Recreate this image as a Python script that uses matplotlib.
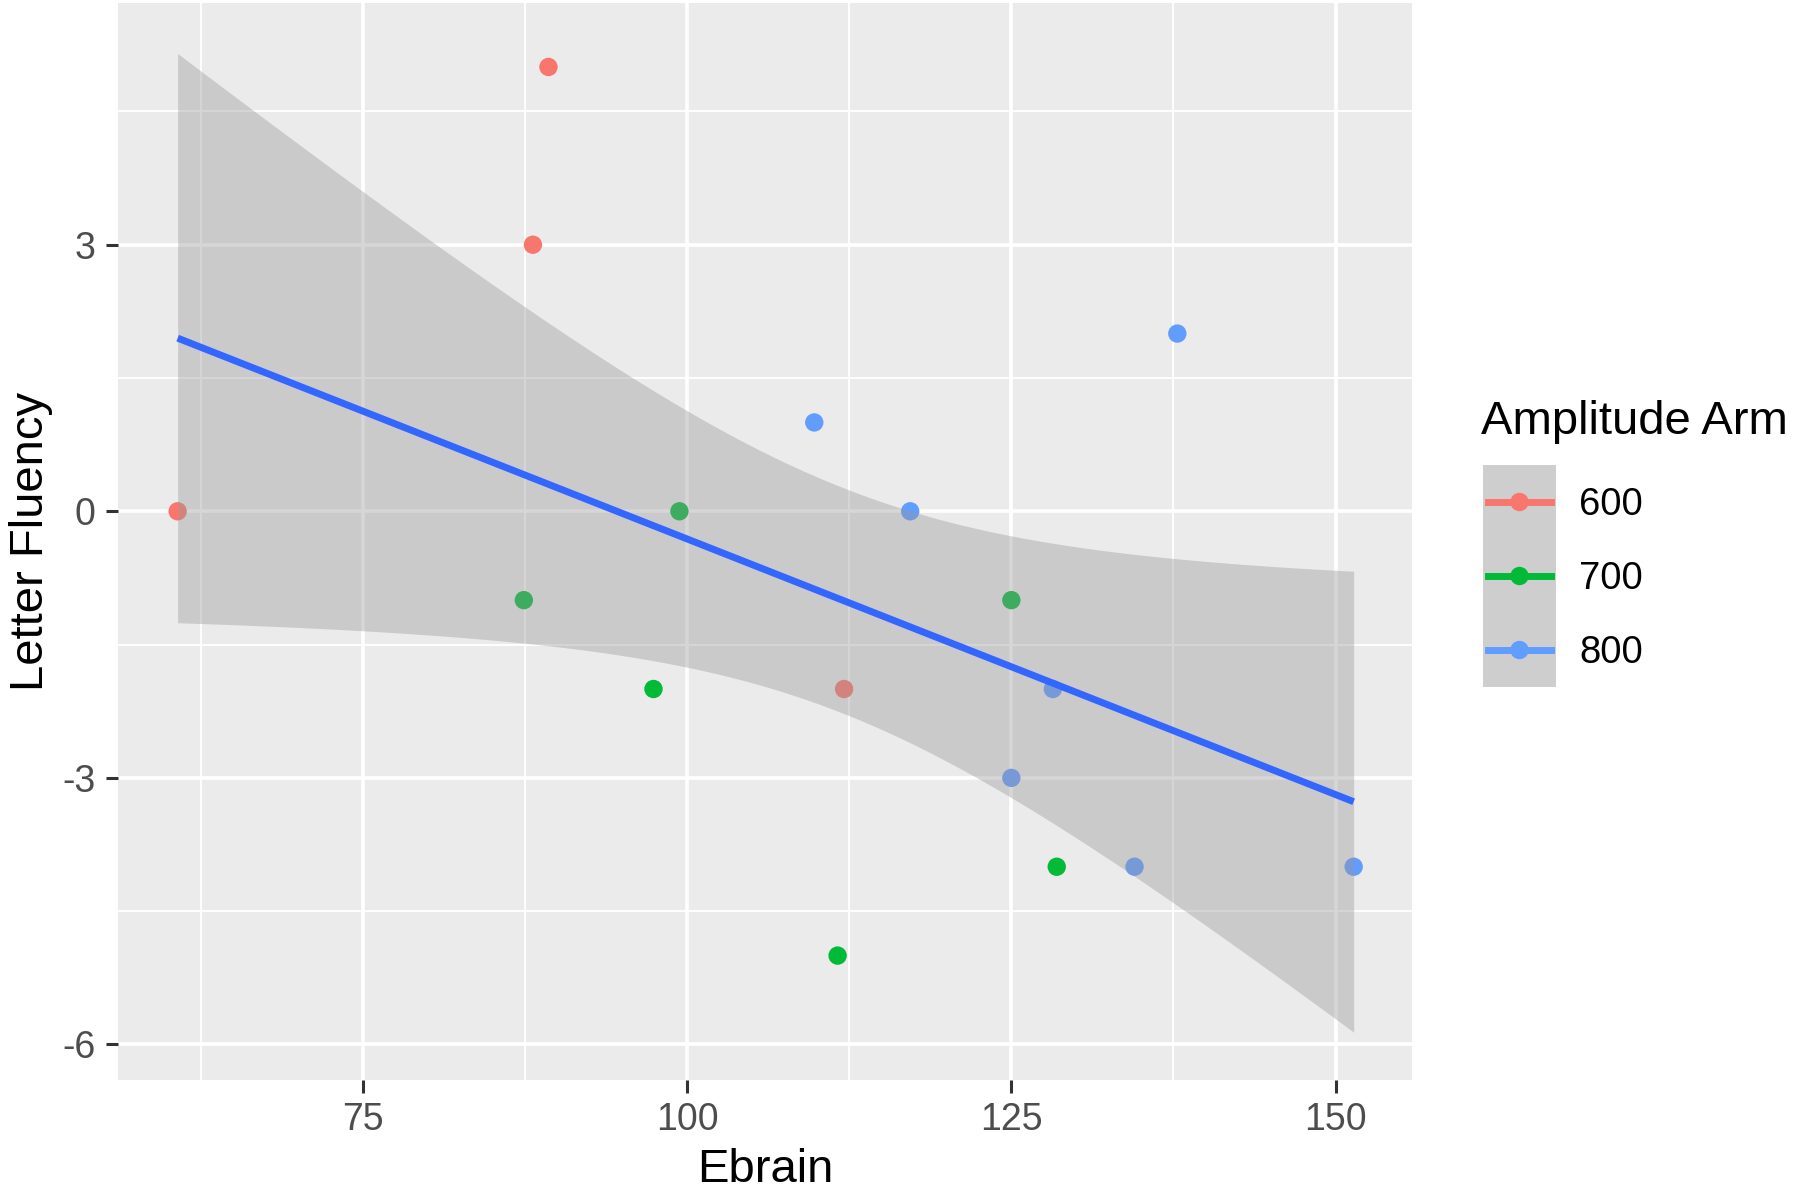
import matplotlib
matplotlib.use("Agg")
import matplotlib.pyplot as plt
from matplotlib.lines import Line2D
from matplotlib.patches import Rectangle
import numpy as np

plt.rcParams['font.family'] = ['Liberation Sans', 'DejaVu Sans']

# data
groups = ['600', '700', '800']
ebrain_600 = [60.7, 89.3, 88.1, 112.1]
fluency_600 = [0, 5, 3, -2]
ebrain_700 = [99.4, 87.4, 97.4, 111.6, 125.0, 128.5]
fluency_700 = [0, -1, -2, -5, -1, -4]
ebrain_800 = [109.8, 117.2, 137.8, 128.2, 125.0, 134.5, 151.4]
fluency_800 = [1, 0, 2, -2, -3, -4, -4]
colors = ['#F8766D', '#00BA38', '#619CFF']

xticks = [75, 100, 125, 150]
yticks = [-6, -3, 0, 3]

W, H = 1800, 1194
fig = plt.figure(figsize=(W / 100, H / 100), dpi=100)
fig.patch.set_facecolor('white')

left, right, top, bottom = 118, 1412, 3, 1080
ax = fig.add_axes([left / W, 1 - bottom / H, (right - left) / W, (bottom - top) / H])
ax.set_facecolor('#EBEBEB')
for s in ax.spines.values():
    s.set_visible(False)

# points first, smoother drawn on top (like ggplot layer order)
xs_all, ys_all = [], []
for xs, ys, c in zip([ebrain_600, ebrain_700, ebrain_800],
                     [fluency_600, fluency_700, fluency_800], colors):
    ax.scatter(xs, ys, s=175, color=c, edgecolors='none', zorder=3)
    xs_all += xs
    ys_all += ys

x = np.array(xs_all)
y = np.array(ys_all)
n = len(x)
slope, icpt = np.polyfit(x, y, 1)
resid = y - (slope * x + icpt)
s_err = np.sqrt(np.sum(resid ** 2) / (n - 2))
sxx = np.sum((x - x.mean()) ** 2)
t_val = 2.131  # t(0.975, df=15)
xg = np.linspace(x.min(), x.max(), 200)
yg = slope * xg + icpt
half = t_val * s_err * np.sqrt(1 / n + (xg - x.mean()) ** 2 / sxx)
ax.fill_between(xg, yg - half, yg + half, color='#999999', alpha=0.4, linewidth=0, zorder=4)
ax.plot(xg, yg, color='#3366FF', lw=5, zorder=5, solid_capstyle='butt')

ax.set_xlim(56.1, 155.9)
ax.set_ylim(-6.4, 5.72)
ax.set_xticks(xticks)
ax.set_yticks(yticks)
ax.set_xticks([62.5, 87.5, 112.5, 137.5], minor=True)
ax.set_yticks([-4.5, -1.5, 1.5, 4.5], minor=True)
ax.grid(which='major', color='white', lw=2.6, zorder=0)
ax.grid(which='minor', color='white', lw=1.3, zorder=0)
ax.set_axisbelow(True)
ax.tick_params(which='major', length=9, width=2.2, color='#333333', labelsize=27,
               labelcolor='#4D4D4D', pad=7)
ax.tick_params(which='minor', length=0)
ax.set_xticklabels([str(v) for v in xticks])
ax.set_yticklabels([str(v) for v in yticks])

fig.text((left + right) / 2 / W, 1 - 1170 / H, 'Ebrain', fontsize=34,
         ha='center', va='center')
fig.text(31 / W, 1 - (top + bottom) / 2 / H, 'Letter Fluency', fontsize=34,
         rotation=90, ha='center', va='center')

# legend, drawn by hand in pixel coordinates
lg = fig.add_axes([0, 0, 1, 1], facecolor='none')
lg.set_xlim(0, W)
lg.set_ylim(H, 0)
lg.axis('off')
lg.text(1481, 422, 'Amplitude Arm', fontsize=34, va='center', ha='left')
key_l, key_w, key_top, key_h = 1483, 73, 465, 74
lg.add_patch(Rectangle((key_l, key_top), key_w, key_h * 3, facecolor='#CECECE',
                       edgecolor='none'))
for i, (g, c) in enumerate(zip(groups, colors)):
    cy = key_top + key_h * (i + 0.5)
    lg.add_line(Line2D([key_l + 5, key_l + key_w - 5], [cy, cy], color=c, lw=5))
    lg.scatter([key_l + key_w / 2], [cy], s=175, color=c, edgecolors='none')
    lg.text(1579, cy + 3, g, fontsize=27.5, va='center', ha='left')

fig.savefig('out.png', dpi=100)
